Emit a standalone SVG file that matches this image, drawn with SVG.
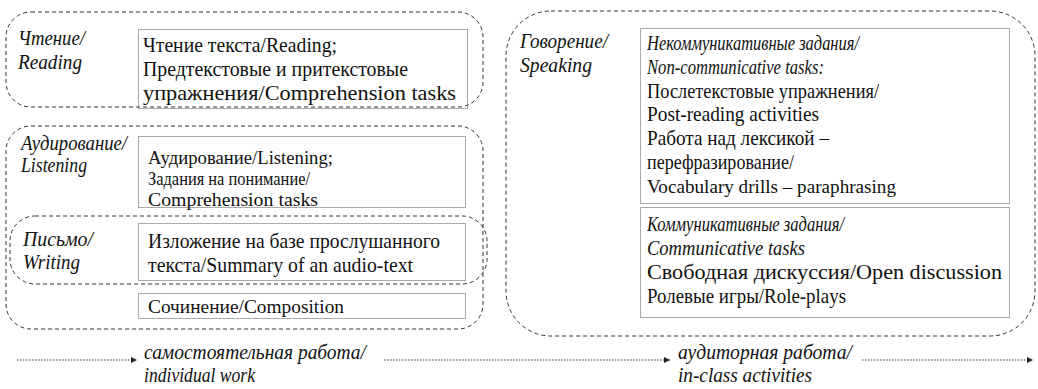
<svg xmlns="http://www.w3.org/2000/svg" width="1038" height="389" viewBox="0 0 1038 389" font-family="Liberation Serif, DejaVu Serif, serif">
<style>
.grp{fill:none;stroke:#333;stroke-width:1;stroke-dasharray:4 3}
.box{fill:none;stroke:#555;stroke-width:1;stroke-dasharray:1 1}
.t{font-size:21px;fill:#111}
.ts{font-size:19.5px;fill:#111}
.i{font-style:italic}
.lb{font-size:20px;font-style:italic;fill:#111}
.bt{font-size:20px;font-style:italic;fill:#111}
.arr{fill:none;stroke:#333;stroke-width:1;stroke-dasharray:1.5 1.5}
</style>
<defs>
<marker id="ah" markerWidth="8" markerHeight="8" refX="6" refY="3" orient="auto" markerUnits="userSpaceOnUse">
<path d="M0,0 L6,3 L0,6 Z" fill="#222"/>
</marker>
</defs>
<rect width="1038" height="389" fill="#fff"/>

<g id="reading" font-family="Liberation Serif, serif">
<rect class="grp" x="6" y="12" width="477" height="95" rx="25"/>
<text class="lb" x="18" y="45" textLength="67" lengthAdjust="spacingAndGlyphs">Чтение/</text>
<text class="lb" x="18" y="69" textLength="64" lengthAdjust="spacingAndGlyphs">Reading</text>
<rect class="box" x="138.5" y="29.5" width="329" height="79"/>
<text class="t" x="143" y="52" textLength="194" lengthAdjust="spacingAndGlyphs">Чтение текста/Reading;</text>
<text class="t" x="143" y="76" textLength="265" lengthAdjust="spacingAndGlyphs">Предтекстовые и притекстовые</text>
<text class="t" x="143" y="100" textLength="313" lengthAdjust="spacingAndGlyphs">упражнения/Comprehension tasks</text>
</g>

<g id="listening" font-family="Liberation Serif, serif">
<rect class="grp" x="6" y="126" width="477" height="203" rx="25"/>
<text class="lb" x="21" y="150" textLength="106" lengthAdjust="spacingAndGlyphs">Аудирование/</text>
<text class="lb" x="21" y="172" textLength="66" lengthAdjust="spacingAndGlyphs">Listening</text>
<rect class="box" x="138.5" y="136.5" width="327" height="71"/>
<text class="ts" x="148" y="164" textLength="185" lengthAdjust="spacingAndGlyphs">Аудирование/Listening;</text>
<text class="ts" x="148" y="185" textLength="162" lengthAdjust="spacingAndGlyphs">Задания на понимание/</text>
<text class="ts" x="148" y="206" textLength="170" lengthAdjust="spacingAndGlyphs">Comprehension tasks</text>
</g>

<g id="writing" font-family="Liberation Serif, serif">
<rect class="grp" x="10" y="216" width="477" height="68" rx="25"/>
<text class="lb" x="23" y="246" textLength="70" lengthAdjust="spacingAndGlyphs">Письмо/</text>
<text class="lb" x="23" y="269" textLength="57" lengthAdjust="spacingAndGlyphs">Writing</text>
<rect class="box" x="138.5" y="223.5" width="327" height="57"/>
<text class="t" x="148" y="248" textLength="292" lengthAdjust="spacingAndGlyphs">Изложение на базе прослушанного</text>
<text class="t" x="148" y="272" textLength="265" lengthAdjust="spacingAndGlyphs">текста/Summary of an audio-text</text>
</g>

<g id="composition" font-family="Liberation Serif, serif">
<rect class="box" x="138.5" y="293.5" width="327" height="25"/>
<text class="ts" x="148" y="313" textLength="196" lengthAdjust="spacingAndGlyphs">Сочинение/Composition</text>
</g>

<g id="speaking" font-family="Liberation Serif, serif">
<rect class="grp" x="506" y="11" width="529" height="325" rx="45"/>
<text class="lb" x="520" y="48" textLength="88" lengthAdjust="spacingAndGlyphs">Говорение/</text>
<text class="lb" x="520" y="72" textLength="72" lengthAdjust="spacingAndGlyphs">Speaking</text>
<rect class="box" x="640.5" y="28.5" width="369" height="175"/>
<text class="t i" x="647" y="50" textLength="212" lengthAdjust="spacingAndGlyphs">Некоммуникативные задания/</text>
<text class="t i" x="647" y="74" textLength="177" lengthAdjust="spacingAndGlyphs">Non-communicative tasks:</text>
<text class="t" x="647" y="98" textLength="232" lengthAdjust="spacingAndGlyphs">Послетекстовые упражнения/</text>
<text class="t" x="647" y="121" textLength="172" lengthAdjust="spacingAndGlyphs">Post-reading activities</text>
<text class="t" x="647" y="145" textLength="182" lengthAdjust="spacingAndGlyphs">Работа над лексикой –</text>
<text class="t" x="647" y="169" textLength="147" lengthAdjust="spacingAndGlyphs">перефразирование/</text>
<text class="ts" x="647" y="193" textLength="249" lengthAdjust="spacingAndGlyphs">Vocabulary drills – paraphrasing</text>
<rect class="box" x="640.5" y="207.5" width="369" height="110"/>
<text class="t i" x="647" y="231" textLength="197" lengthAdjust="spacingAndGlyphs">Коммуникативные задания/</text>
<text class="t i" x="647" y="255" textLength="158" lengthAdjust="spacingAndGlyphs">Communicative tasks</text>
<text class="t" x="647" y="279" textLength="355" lengthAdjust="spacingAndGlyphs">Свободная дискуссия/Open discussion</text>
<text class="t" x="647" y="303" textLength="199" lengthAdjust="spacingAndGlyphs">Ролевые игры/Role-plays</text>
</g>

<g id="connectors">
<line class="arr" x1="17" y1="360" x2="137" y2="360" marker-end="url(#ah)"/>
<line class="arr" x1="384" y1="360" x2="670" y2="360" marker-end="url(#ah)"/>
<line class="arr" x1="862" y1="360" x2="1033" y2="360" marker-end="url(#ah)"/>
</g>

<g id="bottom-labels" font-family="Liberation Serif, serif">
<text class="bt" x="144" y="359" textLength="222" lengthAdjust="spacingAndGlyphs">самостоятельная работа/</text>
<text class="bt" x="144" y="382" textLength="111" lengthAdjust="spacingAndGlyphs">individual work</text>
<text class="bt" x="678" y="359" textLength="174" lengthAdjust="spacingAndGlyphs">аудиторная работа/</text>
<text class="bt" x="678" y="382" textLength="134" lengthAdjust="spacingAndGlyphs">in-class activities</text>
</g>
</svg>
